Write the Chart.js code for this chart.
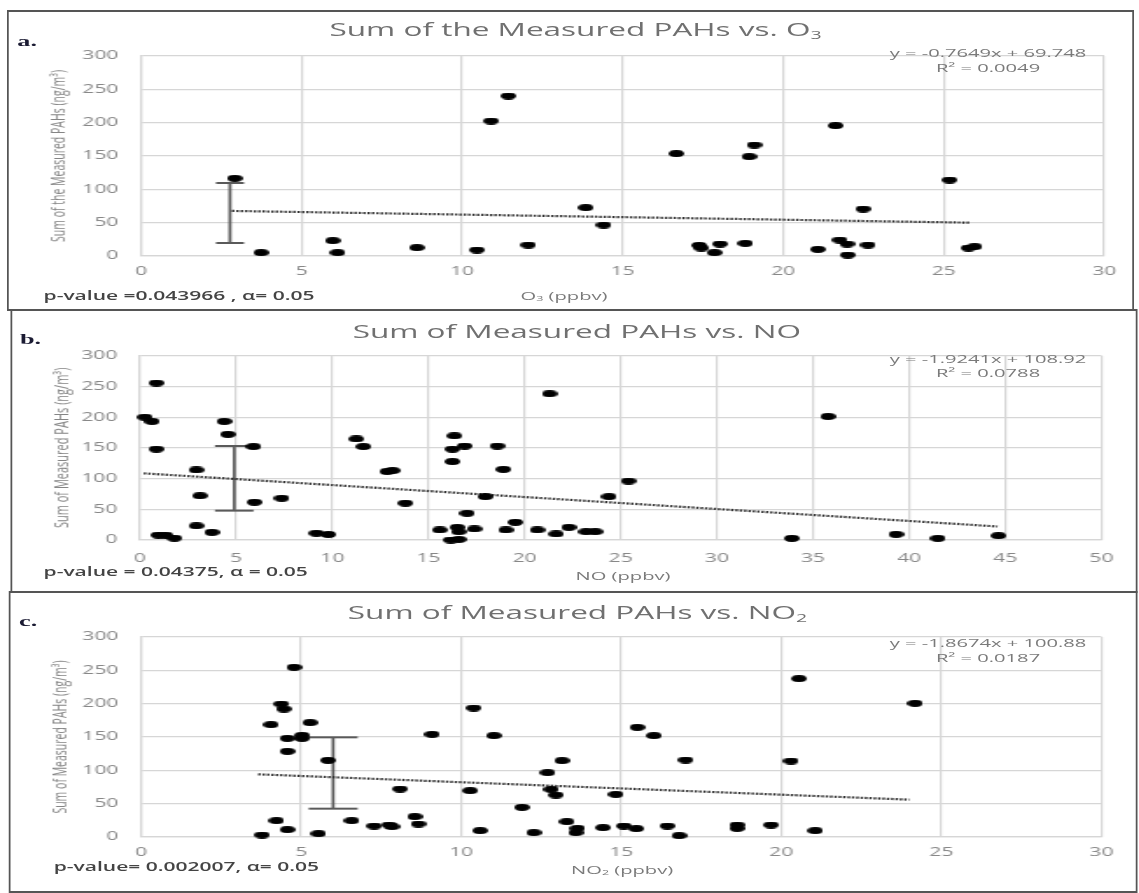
<!DOCTYPE html>
<html>
<head>
<meta charset="utf-8">
<script src="https://cdn.jsdelivr.net/npm/chart.js@4.4.0/dist/chart.umd.min.js"></script>
<style>
  body { margin: 0; background: #fff; }
  /* the reference is stretched sideways, so the whole page is drawn narrow and scaled */
  #page { position: absolute; left: 0; top: 0; width: 651px; height: 893px; background: #fff;
          transform: scaleX(1.75); transform-origin: 0 0; font-family: 'Open Sans', sans-serif; overflow: hidden; }
  .panel { position: absolute; box-sizing: border-box; border: 2px solid #555; border-left-width: 1.2px; border-right-width: 1.2px; }
  .box { position: absolute; left: 0; width: 651px; }
  .t { position: absolute; white-space: nowrap; line-height: 1; transform: translate(-50%, -50%); }
  .title { font-size: 18px; color: #707070; }
  .axt { font-size: 11.5px; color: #7a7a7a; }
  .eq { font-size: 11.5px; color: #7a7a7a; }
  .pv { position: absolute; white-space: nowrap; line-height: 1; transform: translateY(-50%); font-size: 12px; font-weight: 600; color: #444; }
  .lab { position: absolute; line-height: 1; font-family: 'Liberation Serif', serif; font-weight: bold; font-size: 15px; color: #1b1b33; }
  .sb { font-size: 0.62em; vertical-align: -0.25em; }
</style>
</head>
<body>
<div id="page">
  <div class="panel" style="left:4px; top:10px; width:644px; height:301px;"></div>
  <div class="panel" style="left:5.7px; top:309px; width:644px; height:284px;"></div>
  <div class="panel" style="left:5.1px; top:591px; width:644.6px; height:302px;"></div>

  <div class="box" style="top:10px; height:300px;"><canvas id="chartO3"></canvas></div>
  <div class="box" style="top:310px; height:282px;"><canvas id="chartNO"></canvas></div>
  <div class="box" style="top:592px; height:300px;"><canvas id="chartNO2"></canvas></div>

  <div class="lab" style="left:9.9px; top:34.4px;">a.</div>
  <div class="lab" style="left:11.4px; top:332.4px;">b.</div>
  <div class="lab" style="left:10.9px; top:614.4px;">c.</div>

  <div class="t title" style="left:328.9px; top:29.5px;">Sum of the Measured PAHs vs. O<span class="sb">3</span></div>
  <div class="t title" style="left:329.6px; top:330.5px;">Sum of Measured PAHs vs. NO</div>
  <div class="t title" style="left:330px; top:612.5px;">Sum of Measured PAHs vs. NO<span class="sb">2</span></div>

  <div class="t axt" style="left:322.3px; top:296px;">O<span class="sb">3</span> (ppbv)</div>
  <div class="t axt" style="left:356px; top:576px;">NO (ppbv)</div>
  <div class="t axt" style="left:355.5px; top:870px;">NO<span class="sb">2</span> (ppbv)</div>

  <div class="t eq" style="left:564.6px; top:53px;">y = -0.7649x + 69.748</div>
  <div class="t eq" style="left:564.6px; top:68px;">R² = 0.0049</div>
  <div class="t eq" style="left:564.6px; top:359.3px;">y = -1.9241x + 108.92</div>
  <div class="t eq" style="left:564.6px; top:373.3px;">R² = 0.0788</div>
  <div class="t eq" style="left:564.6px; top:643.3px;">y = -1.8674x + 100.88</div>
  <div class="t eq" style="left:564.6px; top:658.3px;">R² = 0.0187</div>

  <div class="pv" style="left:24.9px; top:296px;">p-value =0.043966 , α= 0.05</div>
  <div class="pv" style="left:24.9px; top:571.7px;">p-value = 0.04375, α = 0.05</div>
  <div class="pv" style="left:30.7px; top:866.7px;">p-value= 0.002007, α= 0.05</div>
</div>

<script>
// panel a: O3 (ppbv) vs sum of PAHs (ng/m3)
const o3X = [2.92, 3.74, 5.97, 6.12, 8.59, 10.46, 10.9, 11.44, 12.06, 13.85, 14.41, 16.67, 17.38, 17.45, 17.86,
             18.03, 18.82, 18.94, 19.1, 21.08, 21.63, 21.76, 21.99, 22.01, 22.49, 22.64, 25.18, 25.77, 25.96];
const o3Y = [116.5, 5, 23, 5, 12.5, 9, 202.5, 240, 16.5, 72.5, 46.5, 153.5, 16, 12, 5,
             18, 19, 149, 166.5, 10, 195.5, 24, 18, 1.5, 70.5, 16.5, 114, 12, 14];
const o3TrendX = [2.83, 25.8];
const o3TrendY = [67.6, 50.0];
const o3ErrX = 2.77;
const o3ErrY = [109.5, 19.5];

// panel b: NO (ppbv)
const noX = [0.25, 0.62, 0.85, 0.85, 0.95, 1.32, 1.79, 2.93, 2.93, 3.12, 3.74, 4.38, 4.57, 5.9, 5.95,
             7.37, 9.17, 9.79, 11.25, 11.62, 12.85, 13.13, 13.8, 15.59, 16.16, 16.35, 16.25, 16.25, 16.5, 16.58,
             16.58, 16.88, 17.01, 17.39, 17.96, 18.58, 18.9, 19.03, 19.52, 20.66, 21.3, 21.64, 22.3, 23.2, 23.67,
             24.39, 25.4, 33.9, 35.78, 39.32, 41.49, 44.64];
const noY = [200, 193, 255.5, 148, 8, 8, 3, 114, 23, 72, 12.5, 193, 172, 152, 61.5,
             68, 11, 9, 164.5, 152, 111.5, 113, 60, 16.3, 0, 169.5, 148, 127.6, 20.6, 13.5,
             1, 153, 43.5, 18, 70.6, 153, 115, 16.3, 28.8, 16.3, 238, 9.8, 20.6, 13.5, 13.5,
             70.6, 96, 2.7, 201, 9.2, 2.7, 7];
const noTrendX = [0.2, 44.6];
const noTrendY = [108.5, 22];
const noErrX = 4.9;
const noErrY = [153, 47.8];

// panel c: NO2 (ppbv)
const no2X = [3.78, 4.06, 4.23, 4.38, 4.46, 4.57, 4.57, 4.57, 4.78, 5.03, 5.03, 5.28, 5.54, 5.84, 6.58,
              7.28, 7.75, 7.84, 8.09, 8.55, 8.66, 9.09, 10.28, 10.39, 10.59, 11.02, 11.9, 12.27, 12.7, 12.81,
              12.96, 13.15, 13.3, 13.58, 13.63, 14.43, 14.83, 15.08, 15.47, 15.5, 16.02, 16.44, 16.81, 17.01, 18.62,
              18.62, 19.68, 20.3, 20.55, 21.06, 24.18];
const no2Y = [3, 168.5, 24.5, 199.5, 192, 148, 128.5, 11, 254.5, 152.5, 148, 171.5, 5, 115, 24.5,
              16.5, 18, 15.5, 72, 30.5, 19.5, 154, 69.5, 193.5, 9.5, 152, 44.5, 6.5, 96.5, 71.5,
              63, 114.5, 23, 6.5, 13, 14, 64, 16.5, 12.5, 164.5, 152, 16.5, 2, 115.5, 18,
              13, 18, 114, 237.5, 9.5, 200.5];
const no2TrendX = [3.66, 24.0];
const no2TrendY = [94, 56];
const no2ErrX = 6.0;
const no2ErrY = [149.5, 42.5];

Chart.defaults.font.family = "'Open Sans', sans-serif";

// black oval marker, it gets stretched by the page transform
function makeDot() {
    const c = document.createElement('canvas');
    c.width = 9;
    c.height = 7;
    const g = c.getContext('2d');
    g.fillStyle = '#000';
    g.beginPath();
    g.ellipse(4.5, 3.5, 4.4, 3.4, 0, 0, Math.PI * 2);
    g.fill();
    return c;
}
const dot = makeDot();

function renderPanel(canvasId, p) {
    if (typeof Chart === 'undefined') {
        throw new Error('Chart.js not loaded');
    }
    const ctx = document.getElementById(canvasId).getContext('2d');
    return new Chart(ctx, {
        type: 'scatter',
        data: {
            datasets: [
                {
                    data: p.xs.map((x, i) => ({ x: x, y: p.ys[i] })),
                    pointStyle: dot,
                    pointRadius: 4,
                    clip: false
                },
                {
                    data: p.trendX.map((x, i) => ({ x: x, y: p.trendY[i] })),
                    showLine: true,
                    pointRadius: 0,
                    borderColor: '#2a2a2a',
                    borderWidth: 2.2,
                    borderDash: [1.4, 1.1],
                    clip: false
                },
                {
                    data: p.errY.map(y => ({ x: p.errX, y: y })),
                    showLine: true,
                    pointStyle: 'line',
                    pointRadius: p.cap,
                    pointBorderWidth: 2,
                    pointBorderColor: '#5a5a5a',
                    borderColor: '#5a5a5a',
                    borderWidth: 1.7,
                    clip: false
                }
            ]
        },
        options: {
            responsive: true,
            maintainAspectRatio: false,
            animation: false,
            events: [],
            layout: { padding: { left: 0, right: p.padR, top: p.padT, bottom: p.padB } },
            plugins: { legend: { display: false }, tooltip: { enabled: false } },
            scales: {
                x: {
                    min: 0,
                    max: p.xMax,
                    ticks: { stepSize: 5, padding: p.xPad, color: '#888', font: { size: 12 } },
                    grid: { color: '#d6d6d6', lineWidth: 1.2, drawTicks: false },
                    border: { color: '#d6d6d6', width: 1.2 },
                    afterFit: s => { s.height = 30; }
                },
                y: {
                    min: 0,
                    max: 300,
                    ticks: { stepSize: 50, padding: 13, color: '#888', font: { size: 12 } },
                    grid: { color: '#d6d6d6', lineWidth: 1.2, drawTicks: false },
                    border: { color: '#d6d6d6', width: 1.2 },
                    title: {
                        display: true,
                        text: p.yTitle,
                        color: '#858585',
                        font: { size: p.yTitleSize },
                        padding: { top: p.yTitlePad, bottom: 0 }
                    },
                    afterFit: s => { s.width = p.left; }
                }
            }
        }
    });
}

renderPanel('chartO3', {
    xs: o3X, ys: o3Y, trendX: o3TrendX, trendY: o3TrendY, errX: o3ErrX, errY: o3ErrY,
    xMax: 30, cap: 8, left: 80.6, padR: 20, padT: 46, padB: 24, xPad: 8,
    yTitle: 'Sum of the Measured PAHs (ng/m³)', yTitleSize: 10.5, yTitlePad: 28
});
renderPanel('chartNO', {
    xs: noX, ys: noY, trendX: noTrendX, trendY: noTrendY, errX: noErrX, errY: noErrY,
    xMax: 50, cap: 11, left: 80, padR: 21.6, padT: 45.7, padB: 22, xPad: 11,
    yTitle: 'Sum of Measured PAHs (ng/m³)', yTitleSize: 11, yTitlePad: 29
});
renderPanel('chartNO2', {
    xs: no2X, ys: no2Y, trendX: no2TrendX, trendY: no2TrendY, errX: no2ErrX, errY: no2ErrY,
    xMax: 30, cap: 14, left: 80.6, padR: 21.6, padT: 45, padB: 25, xPad: 8,
    yTitle: 'Sum of Measured PAHs (ng/m³)', yTitleSize: 10.5, yTitlePad: 28.6
});
</script>
</body>
</html>
